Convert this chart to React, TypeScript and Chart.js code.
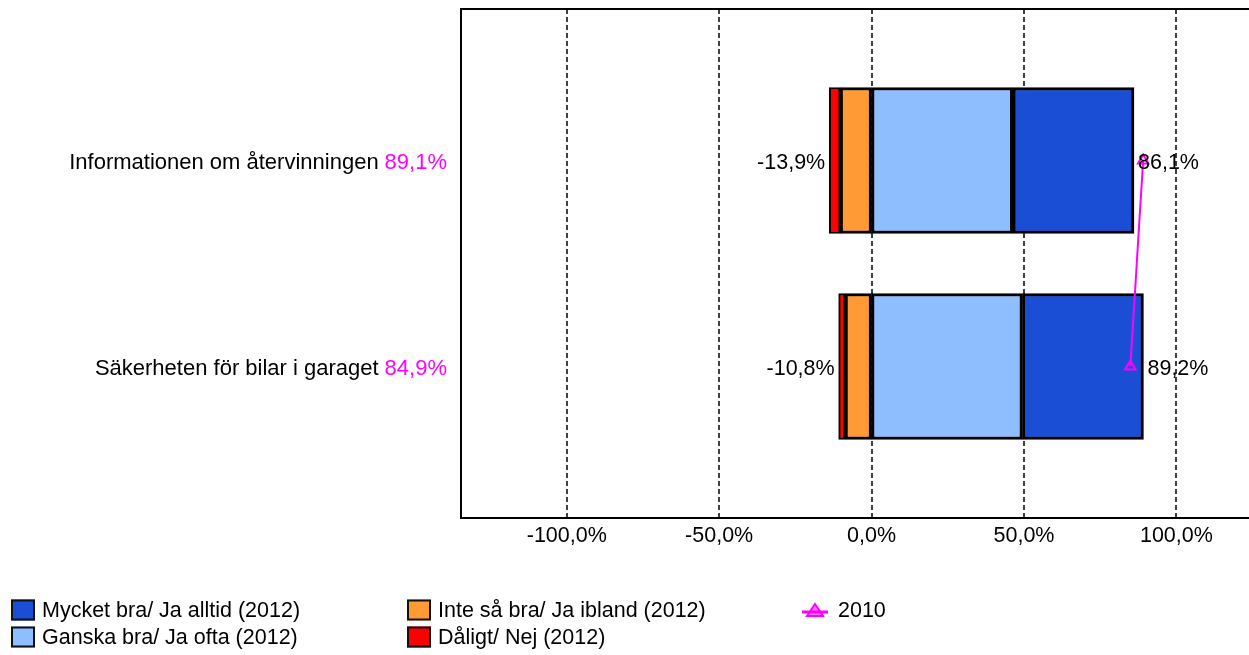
import React, { useEffect, useRef } from 'react';
import { Chart, registerables } from 'chart.js';

Chart.register(...registerables);

const categories = ['Informationen om återvinningen', 'Säkerheten för bilar i garaget'];
const veryGood2012 = [39.8, 39.7];
const fairlyGood2012 = [46.3, 49.5];
const notSoGood2012 = [-10.3, -8.7];
const bad2012 = [-3.6, -2.1];
const values2010 = [89.1, 84.9];
const xTickValues = [-100, -50, 0, 50, 100];

const labelVeryGood = 'Mycket bra/ Ja alltid (2012)';
const labelFairlyGood = 'Ganska bra/ Ja ofta (2012)';
const labelNotSoGood = 'Inte så bra/ Ja ibland (2012)';
const labelBad = 'Dåligt/ Nej (2012)';
const label2010 = '2010';

const C_DARK = '#1A4FD5';
const C_LIGHT = '#8FBEFF';
const C_ORANGE = '#FF9A35';
const C_RED = '#FF0000';
const C_PINK = '#FF00FF';

const FONT = '"Liberation Sans", Arial, sans-serif';
const FS = 21.5;
const FS_CAT = 22;
const fmt = (v: number) => v.toFixed(1).replace('.', ',') + '%';

const gridFramePlugin = {
  id: 'gridFrame',
  beforeDatasetsDraw(chart: any) {
    const { ctx, chartArea, scales } = chart;
    const { left, top, bottom } = chartArea;
    const right = chart.width;
    const x = scales.x;
    ctx.save();
    ctx.strokeStyle = '#000';
    ctx.lineWidth = 1.5;
    ctx.setLineDash([5, 3]);
    xTickValues.forEach((v) => {
      const px = Math.round(x.getPixelForValue(v));
      ctx.beginPath();
      ctx.moveTo(px, top);
      ctx.lineTo(px, bottom);
      ctx.stroke();
    });
    ctx.setLineDash([]);
    ctx.lineWidth = 2;
    ctx.beginPath();
    ctx.moveTo(right, top);
    ctx.lineTo(left, top);
    ctx.lineTo(left, bottom);
    ctx.lineTo(right, bottom);
    ctx.stroke();
    ctx.restore();
  },
};

const labelsPlugin = {
  id: 'textLabels',
  afterDatasetsDraw(chart: any) {
    const { ctx, scales } = chart;
    const x = scales.x;
    const y = scales.y;
    ctx.save();
    ctx.textBaseline = 'middle';
    categories.forEach((cat, i) => {
      const py = y.getPixelForValue(i) + 2.5;
      ctx.font = `${FS_CAT}px ${FONT}`;
      ctx.fillStyle = C_PINK;
      ctx.textAlign = 'right';
      const pinkText = fmt(values2010[i]);
      ctx.fillText(pinkText, 447, py);
      const w = ctx.measureText(pinkText).width;
      ctx.fillStyle = '#000';
      ctx.fillText(cat, 447 - w - 6, py);

      ctx.font = `${FS}px ${FONT}`;
      const neg = notSoGood2012[i] + bad2012[i];
      const pos = veryGood2012[i] + fairlyGood2012[i];
      ctx.textAlign = 'right';
      ctx.fillText(fmt(neg), x.getPixelForValue(neg) - 4, py);
      ctx.textAlign = 'left';
      ctx.fillText(fmt(pos), x.getPixelForValue(pos) + 4, py);
    });
    ctx.restore();
  },
};

const legendPlugin = {
  id: 'customLegend',
  afterDraw(chart: any) {
    const { ctx } = chart;
    const ds = chart.data.datasets;
    const find = (l: string) => ds.find((d: any) => d.label === l);
    const cols = [11, 407, 802];
    const rows = [610, 637];
    const items = [
      { l: labelVeryGood, c: 0, r: 0 },
      { l: labelFairlyGood, c: 0, r: 1 },
      { l: labelNotSoGood, c: 1, r: 0 },
      { l: labelBad, c: 1, r: 1 },
      { l: label2010, c: 2, r: 0 },
    ];
    ctx.save();
    ctx.font = `${FS}px ${FONT}`;
    ctx.textBaseline = 'middle';
    ctx.textAlign = 'left';
    items.forEach((it) => {
      const d: any = find(it.l);
      const bx = cols[it.c];
      const cy = rows[it.r];
      if (d.type === 'line') {
        ctx.strokeStyle = d.borderColor;
        ctx.fillStyle = 'rgba(255,0,255,0.55)';
        ctx.lineWidth = 3;
        ctx.beginPath();
        ctx.moveTo(bx, cy + 2);
        ctx.lineTo(bx + 26, cy + 2);
        ctx.stroke();
        ctx.lineWidth = 2;
        ctx.beginPath();
        ctx.moveTo(bx + 13, cy - 6);
        ctx.lineTo(bx + 21, cy + 6);
        ctx.lineTo(bx + 5, cy + 6);
        ctx.closePath();
        ctx.fill();
        ctx.stroke();
        ctx.fillStyle = '#000';
        ctx.fillText(it.l, bx + 36, cy + 1);
      } else {
        ctx.fillStyle = d.backgroundColor;
        ctx.fillRect(bx, cy - 10.5, 24, 21);
        ctx.strokeStyle = '#111';
        ctx.lineWidth = 2;
        ctx.strokeRect(bx + 1, cy - 9.5, 22, 19);
        ctx.fillStyle = '#000';
        ctx.fillText(it.l, bx + 31, cy + 1.5);
      }
    });
    ctx.restore();
  },
};

export default function App() {
  const ref = useRef<HTMLCanvasElement | null>(null);
  useEffect(() => {
    if (!ref.current) return;
    const toPts = (arr: number[]) => arr.map((v, i) => ({ x: v, y: i }));
    const barCommon = {
      type: 'bar' as const,
      stack: 'bars',
      order: 1,
      borderColor: '#000',
      borderWidth: 3,
      borderSkipped: false,
      barThickness: 146,
    };
    const chart = new Chart(ref.current, {
      type: 'bar',
      data: {
        datasets: [
          {
            type: 'line',
            label: label2010,
            data: toPts(values2010),
            stack: 'line',
            order: 0,
            borderColor: C_PINK,
            borderWidth: 2,
            backgroundColor: 'rgba(0,0,0,0)',
            pointStyle: 'triangle',
            pointRadius: 6,
            pointBorderWidth: 2,
            pointBorderColor: C_PINK,
            pointBackgroundColor: 'rgba(0,0,0,0)',
            fill: false,
          } as any,
          { ...barCommon, label: labelFairlyGood, data: toPts(fairlyGood2012), backgroundColor: C_LIGHT },
          { ...barCommon, label: labelVeryGood, data: toPts(veryGood2012), backgroundColor: C_DARK },
          { ...barCommon, label: labelNotSoGood, data: toPts(notSoGood2012), backgroundColor: C_ORANGE },
          { ...barCommon, label: labelBad, data: toPts(bad2012), backgroundColor: C_RED, borderWidth: 2, borderColor: '#000' },
        ],
      },
      options: {
        indexAxis: 'y',
        animation: false,
        responsive: false,
        layout: { padding: { left: 461, top: 9, right: 0, bottom: 0 } },
        plugins: { legend: { display: false }, tooltip: { enabled: false } },
        scales: {
          x: {
            type: 'linear',
            stacked: true,
            min: -134.7,
            max: 121.2,
            grid: { display: false, drawTicks: false },
            border: { display: false },
            afterBuildTicks: (scale: any) => {
              scale.ticks = xTickValues.map((v) => ({ value: v }));
            },
            afterFit: (scale: any) => {
              scale.height = 137;
            },
            ticks: {
              padding: 5,
              color: '#000',
              font: { family: FONT, size: FS },
              maxRotation: 0,
              autoSkip: false,
              callback: (v: any) => fmt(Number(v)),
            },
          },
          y: {
            type: 'linear',
            display: false,
            reverse: true,
            offset: false,
            grid: { offset: false },
            min: -0.7354,
            max: 1.7354,
          },
        },
      } as any,
      plugins: [gridFramePlugin, labelsPlugin, legendPlugin],
    });
    return () => chart.destroy();
  }, []);
  return (
    <div style={{ position: 'absolute', left: 0, top: 0, width: 1249, height: 655, overflow: 'hidden', background: '#fff' }}>
      <canvas ref={ref} width={1249} height={655} style={{ display: 'block' }} />
    </div>
  );
}
